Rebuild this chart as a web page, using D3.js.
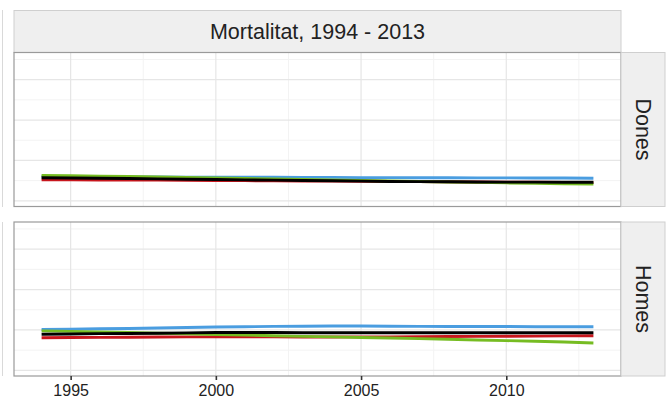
<!DOCTYPE html>
<html>
<head>
<meta charset="utf-8">
<script src="https://cdn.jsdelivr.net/npm/d3@7"></script>
<style>
  body { margin: 0; background: #fff; }
  svg { display: block; font-family: "Liberation Sans", Arial, sans-serif; }
</style>
</head>
<body>
<svg id="chart"></svg>
<script>
// years and series values
var years = [1994, 1995, 1996, 1997, 1998, 1999, 2000, 2001, 2002, 2003,
             2004, 2005, 2006, 2007, 2008, 2009, 2010, 2011, 2012, 2013];

var donesBlau  = [151, 150, 149, 148, 148, 147, 147, 146, 146, 145, 145, 144, 144, 143, 143, 142, 142, 141, 141, 140];
var donesVerd  = [157, 155, 153, 151, 148, 145, 141, 138, 135, 132, 129, 126, 123, 120, 117, 114, 111, 109, 106, 104];
var donesNegre = [143, 141, 140, 138, 136, 134, 132, 130, 128, 126, 124, 122, 120, 119, 118, 117, 116, 116, 115, 115];
var donesVermell = [130, 130, 129, 129, 128, 127, 126, 125, 124, 123, 122, 121, 120, 119, 118, 117, 116, 115, 114, 113];

var homesBlau  = [253, 255, 257, 259, 262, 265, 268, 270, 272, 273, 274, 274, 273, 272, 271, 271, 271, 270, 270, 270];
var homesVerd  = [244, 241, 237, 234, 230, 226, 222, 218, 214, 210, 207, 203, 200, 196, 192, 188, 184, 180, 175, 169];
var homesNegre = [223, 225, 227, 228, 230, 232, 234, 234, 234, 233, 233, 233, 233, 233, 233, 233, 233, 233, 233, 233];
var homesVermell = [202, 203, 204, 205, 206, 207, 207, 207, 207, 206, 206, 207, 207, 208, 209, 210, 211, 212, 213, 214];

var xTicks = [1995, 2000, 2005, 2010];
var yMajor = [0, 250, 500, 750];
var yMinor = [125, 375, 625, 875];

var panels = [
    {label: "Dones", series: [
        {values: donesBlau, color: "#4a9de0"},
        {values: donesVermell, color: "#c8161d"},
        {values: donesVerd, color: "#76bc22"},
        {values: donesNegre, color: "#000000"}]},
    {label: "Homes", series: [
        {values: homesBlau, color: "#4a9de0"},
        {values: homesVermell, color: "#c8161d"},
        {values: homesVerd, color: "#76bc22"},
        {values: homesNegre, color: "#000000"}]}
];

var width = 670, height = 403;
var left = 14, right = 621, stripW = 44;
var panelTops = [52.5, 222], panelH = 154;

var svg = d3.select("#chart")
    .attr("width", width)
    .attr("height", height);

var x = d3.scaleLinear()
    .domain([1993.05, 2013.95])
    .range([left, right]);

var y = d3.scaleLinear()
    .domain([-35, 918])
    .range([panelH, 0]);

// faint clipped edge on the far left
svg.append("line").attr("x1", 2.5).attr("x2", 2.5).attr("y1", 10).attr("y2", 207)
    .attr("stroke", "#d9d9d9");
svg.append("line").attr("x1", 2.5).attr("x2", 2.5).attr("y1", 222).attr("y2", 376)
    .attr("stroke", "#d9d9d9");

// top strip with the title
svg.append("rect")
    .attr("x", left).attr("y", 10.5)
    .attr("width", right - left).attr("height", 42)
    .attr("fill", "#efefef")
    .attr("stroke", "#cfcfcf");
svg.append("text")
    .attr("x", (left + right) / 2)
    .attr("y", 39)
    .attr("text-anchor", "middle")
    .attr("font-size", "21.5px")
    .attr("fill", "#222")
    .text("Mortalitat, 1994 - 2013");

var line = d3.line()
    .x(function(d, i) { return x(years[i]); })
    .y(function(d) { return y(d); });

panels.forEach(function(p, k) {
    var g = svg.append("g")
        .attr("transform", "translate(0," + panelTops[k] + ")");

    g.append("rect")
        .attr("x", left).attr("y", 0)
        .attr("width", right - left).attr("height", panelH)
        .attr("fill", "#fff");

    // minor grid
    g.selectAll(".ymin").data(yMinor).enter().append("line")
        .attr("x1", left).attr("x2", right)
        .attr("y1", function(d) { return y(d); })
        .attr("y2", function(d) { return y(d); })
        .attr("stroke", "#f3f3f3").attr("stroke-width", 1);
    g.selectAll(".xmin").data(xTicks.map(function(t) { return t + 2.5; })).enter().append("line")
        .attr("x1", function(d) { return x(d); })
        .attr("x2", function(d) { return x(d); })
        .attr("y1", 0).attr("y2", panelH)
        .attr("stroke", "#f3f3f3").attr("stroke-width", 1);

    // major grid
    g.selectAll(".ymaj").data(yMajor).enter().append("line")
        .attr("x1", left).attr("x2", right)
        .attr("y1", function(d) { return y(d); })
        .attr("y2", function(d) { return y(d); })
        .attr("stroke", "#e6e6e6").attr("stroke-width", 1.2);
    g.selectAll(".xmaj").data(xTicks).enter().append("line")
        .attr("x1", function(d) { return x(d); })
        .attr("x2", function(d) { return x(d); })
        .attr("y1", 0).attr("y2", panelH)
        .attr("stroke", "#e6e6e6").attr("stroke-width", 1.2);

    p.series.forEach(function(s) {
        g.append("path")
            .datum(s.values)
            .attr("fill", "none")
            .attr("stroke", s.color)
            .attr("stroke-width", 2.9)
            .attr("d", line);
    });

    g.append("rect")
        .attr("x", left).attr("y", 0)
        .attr("width", right - left).attr("height", panelH)
        .attr("fill", "none")
        .attr("stroke", "#9a9a9a").attr("stroke-width", 1.2);

    // facet strip on the right
    g.append("rect")
        .attr("x", right).attr("y", 0)
        .attr("width", stripW).attr("height", panelH)
        .attr("fill", "#efefef")
        .attr("stroke", "#cfcfcf");
    g.append("text")
        .attr("transform", "translate(" + (right + stripW / 2 - 7.5) + "," + (panelH / 2) + ") rotate(90)")
        .attr("text-anchor", "middle")
        .attr("font-size", "21.5px")
        .attr("fill", "#222")
        .text(p.label);
});

// x axis under the lower panel
var xAxis = svg.append("g")
    .attr("transform", "translate(0," + (panelTops[1] + panelH) + ")")
    .call(d3.axisBottom(x).tickValues(xTicks).tickFormat(d3.format("d")).tickSize(4).tickPadding(5));
xAxis.select(".domain").remove();
xAxis.selectAll(".tick line").attr("stroke", "#333").attr("stroke-width", 1.6);
xAxis.selectAll(".tick text")
    .attr("font-family", "Liberation Sans, Arial, sans-serif")
    .attr("font-size", "16px")
    .attr("fill", "#222");
</script>
</body>
</html>
